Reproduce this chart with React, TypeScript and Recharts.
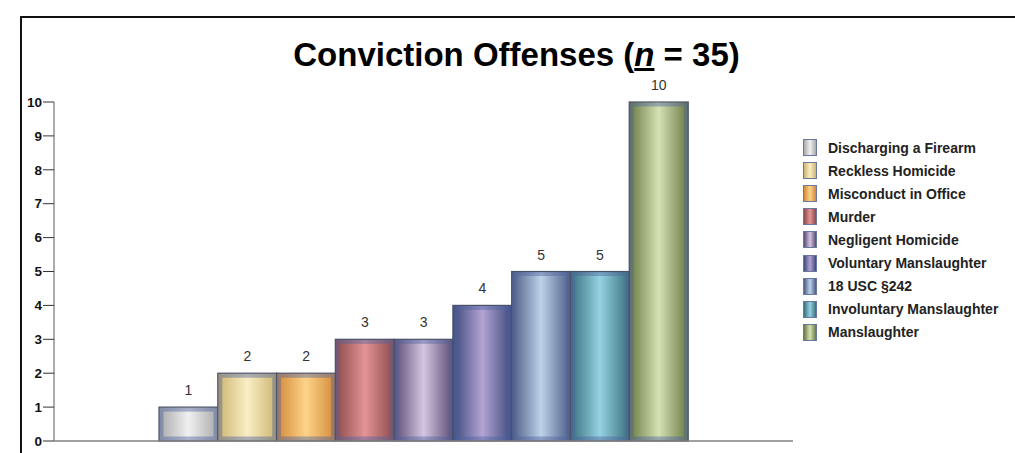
import React from "react";
import { BarChart, Bar, XAxis, YAxis, LabelList, Cell } from "recharts";

const categories = [
  "Discharging a Firearm",
  "Reckless Homicide",
  "Misconduct in Office",
  "Murder",
  "Negligent Homicide",
  "Voluntary Manslaughter",
  "18 USC §242",
  "Involuntary Manslaughter",
  "Manslaughter",
];
const counts = [1, 2, 2, 3, 3, 4, 5, 5, 10];
const yTicks = [0, 1, 2, 3, 4, 5, 6, 7, 8, 9, 10];
const edgeColors = ["#a9a9ab", "#cdb56f", "#d4883a", "#8c4a4c", "#5c4c74", "#3c4a7c", "#4c5c84", "#3a707e", "#6a7a42"];
const centerColors = ["#f0f0f0", "#faeec6", "#fcd488", "#e49494", "#d4c6e2", "#b4a4d4", "#bcd2ea", "#94d2e2", "#d4e2b4"];

const data = categories.map((name, i) => ({ name, value: counts[i] }));

const FONT = "'Liberation Sans', Arial, sans-serif";

const BarShape = (props: any) => {
  const { x, y, width, height, index } = props;
  if (height <= 0) return null;
  return (
    <g>
      <rect x={x} y={y} width={width} height={height} fill={`url(#grad${index})`} />
      <rect
        x={x + 2.5}
        y={y + 2.5}
        width={Math.max(0, width - 5)}
        height={Math.max(0, height - 5)}
        fill="none"
        stroke="rgba(80,100,160,0.45)"
        strokeWidth={4}
      />
      <rect x={x} y={y} width={width} height={height} fill="none" stroke="#4a5268" strokeWidth={1.2} />
    </g>
  );
};

export default function App() {
  return (
    <div style={{ position: "absolute", left: 0, top: 0, width: 1015, height: 453, background: "#fff", overflow: "hidden", fontFamily: FONT }}>
      <div style={{ position: "absolute", left: 20, top: 16, width: 1100, height: 500, borderLeft: "2px solid #111", borderTop: "2px solid #111" }} />
      <div
        style={{
          position: "absolute",
          left: 0,
          width: 1033,
          top: 38,
          textAlign: "center",
          fontSize: 33,
          fontWeight: "bold",
          color: "#000",
          lineHeight: "33px",
          whiteSpace: "nowrap",
        }}
      >
        Conviction Offenses (<i style={{ textDecoration: "underline" }}>n</i> = 35)
      </div>
      <div style={{ position: "absolute", left: 0, top: 0 }}>
        <BarChart
          width={1015}
          height={453}
          data={data}
          margin={{ top: 102, right: 222, bottom: 7, left: 20 }}
          barCategoryGap={0}
        >
          <defs>
            {categories.map((c, i) => (
              <linearGradient key={c} id={`grad${i}`} x1="0" y1="0" x2="1" y2="0">
                <stop offset="0%" stopColor={edgeColors[i]} />
                <stop offset="50%" stopColor={centerColors[i]} />
                <stop offset="100%" stopColor={edgeColors[i]} />
              </linearGradient>
            ))}
          </defs>
          <XAxis
            dataKey="name"
            tick={false}
            tickLine={false}
            height={5}
            padding={{ left: 105, right: 105 }}
            axisLine={{ stroke: "#808080", strokeWidth: 1.5 }}
          />
          <YAxis
            domain={[0, 10]}
            ticks={yTicks}
            interval={0}
            width={34}
            tickSize={11}
            tickMargin={1}
            axisLine={{ stroke: "#909090", strokeWidth: 1.5 }}
            tickLine={{ stroke: "#333" }}
            tick={{ fill: "#111", fontSize: 13.5, fontWeight: "bold", fontFamily: FONT }}
          />
          <Bar dataKey="value" isAnimationActive={false} shape={<BarShape />}>
            {data.map((d, i) => (
              <Cell key={d.name} fill={`url(#grad${i})`} />
            ))}
            <LabelList
              dataKey="value"
              position="top"
              offset={12}
              style={{ fill: "#333", fontSize: 14, fontFamily: FONT }}
            />
          </Bar>
        </BarChart>
      </div>
      <div style={{ position: "absolute", left: 803, top: 136 }}>
        {categories.map((c, i) => (
          <div key={c} style={{ display: "flex", alignItems: "center", height: 23.1 }}>
            <div
              style={{
                width: 14,
                height: 17,
                boxSizing: "border-box",
                border: "1px solid #6a78a0",
                background: `linear-gradient(to right, ${edgeColors[i]}, ${centerColors[i]}, ${edgeColors[i]})`,
                marginRight: 11,
              }}
            />
            <span style={{ fontSize: 14, fontWeight: "bold", color: "#222", whiteSpace: "nowrap" }}>{c}</span>
          </div>
        ))}
      </div>
    </div>
  );
}
